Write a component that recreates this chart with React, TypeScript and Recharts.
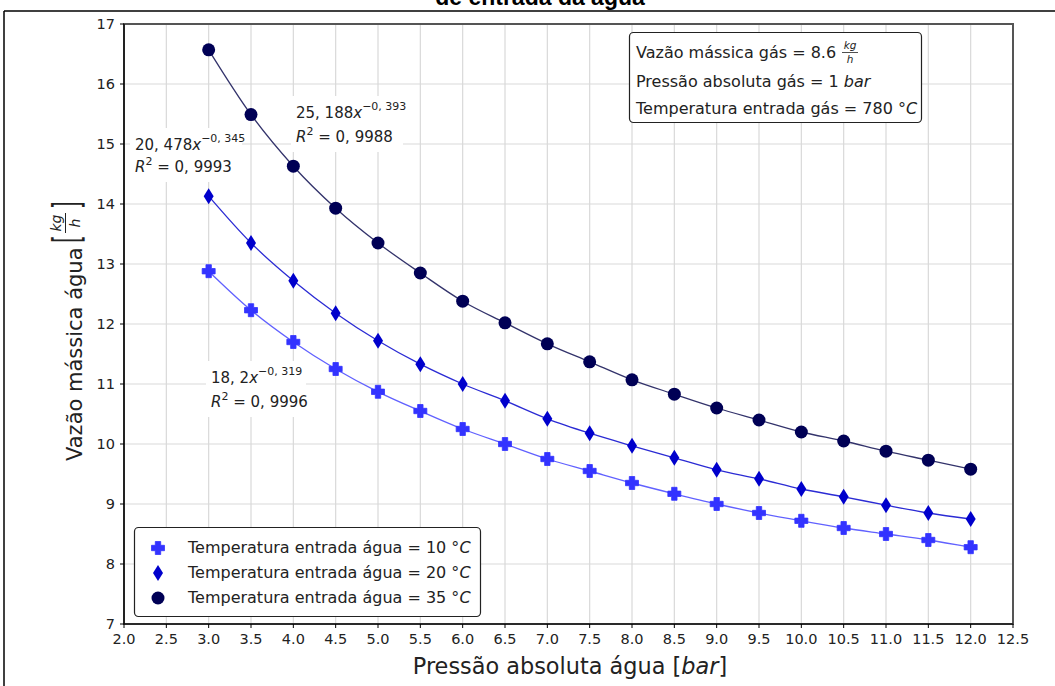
import React from "react";
import {
  CartesianGrid,
  Line,
  LineChart,
  ReferenceArea,
  XAxis,
  YAxis
} from "recharts";

const pressure = [3.0, 3.5, 4.0, 4.5, 5.0, 5.5, 6.0, 6.5, 7.0, 7.5, 8.0, 8.5, 9.0, 9.5, 10.0, 10.5, 11.0, 11.5, 12.0];
const flow10 = [12.88, 12.23, 11.7, 11.25, 10.87, 10.55, 10.25, 10.0, 9.75, 9.55, 9.35, 9.17, 9.0, 8.85, 8.72, 8.6, 8.5, 8.4, 8.28];
const flow20 = [14.13, 13.35, 12.72, 12.18, 11.72, 11.33, 11.0, 10.72, 10.42, 10.18, 9.97, 9.77, 9.57, 9.42, 9.25, 9.12, 8.98, 8.85, 8.75];
const flow35 = [16.57, 15.49, 14.63, 13.93, 13.35, 12.85, 12.38, 12.02, 11.67, 11.37, 11.07, 10.83, 10.6, 10.4, 10.2, 10.05, 9.88, 9.73, 9.58];

const xTicks = [2.0, 2.5, 3.0, 3.5, 4.0, 4.5, 5.0, 5.5, 6.0, 6.5, 7.0, 7.5, 8.0, 8.5, 9.0, 9.5, 10.0, 10.5, 11.0, 11.5, 12.0, 12.5];
const yTicks = [7, 8, 9, 10, 11, 12, 13, 14, 15, 16, 17];
const yMinorTicks: number[] = [];
for (let i = 0; i <= 50; i++) yMinorTicks.push(7 + i * 0.2);

const legendLabels = [
  "Temperatura entrada água = 10 °",
  "Temperatura entrada água = 20 °",
  "Temperatura entrada água = 35 °"
];

const data = pressure.map((p, i) => ({
  p,
  t10: flow10[i],
  t20: flow20[i],
  t35: flow35[i]
}));

const C10 = "#3333ff";
const C20 = "#0000cc";
const C35 = "#000055";
const FONT = "DejaVu Sans, sans-serif";

function Plus({ cx, cy, color }: { cx: number; cy: number; color: string }) {
  const s = 6.5;
  const t = 2.7;
  const d = `M${cx - t},${cy - s}H${cx + t}V${cy - t}H${cx + s}V${cy + t}H${cx + t}V${cy + s}H${cx - t}V${cy + t}H${cx - s}V${cy - t}H${cx - t}Z`;
  return <path d={d} fill={color} stroke={color} strokeWidth={0.8} strokeLinejoin="round" />;
}

function Diamond({ cx, cy, color }: { cx: number; cy: number; color: string }) {
  const d = `M${cx},${cy - 8}L${cx + 5},${cy}L${cx},${cy + 8}L${cx - 5},${cy}Z`;
  return <path d={d} fill={color} />;
}

function Circle({ cx, cy, color }: { cx: number; cy: number; color: string }) {
  return <circle cx={cx} cy={cy} r={6.5} fill={color} />;
}

const dotPlus = (props: any) => <Plus key={props.index} cx={props.cx} cy={props.cy} color={C10} />;
const dotDiamond = (props: any) => <Diamond key={props.index} cx={props.cx} cy={props.cy} color={C20} />;
const dotCircle = (props: any) => <Circle key={props.index} cx={props.cx} cy={props.cy} color={C35} />;

function FitLabel({ x, y, y2, coef, exp, r2, w }: { x: number; y: number; y2: number; coef: string; exp: string; r2: string; w: number }) {
  return (
    <g fontFamily={FONT} fill="#222">
      <rect x={x - 5} y={y - 22} width={w} height={y2 - y + 32} fill="#fff" />
      <text x={x} y={y} fontSize={15}>
        {coef}
        <tspan fontStyle="italic">x</tspan>
        <tspan fontSize={11} dy={-8}>{exp}</tspan>
      </text>
      <text x={x} y={y2} fontSize={15}>
        <tspan fontStyle="italic">R</tspan>
        <tspan fontSize={11} dy={-7}>2</tspan>
        <tspan dy={7}>{" = "}</tspan>
        {r2}
      </text>
    </g>
  );
}

function Overlay() {
  const rows = [548, 573, 598];
  return (
    <svg width={1055} height={686} style={{ position: "absolute", left: 0, top: 0, pointerEvents: "none" }}>
      <text x={540} y={5} textAnchor="middle" fontFamily="Liberation Sans, Arial, sans-serif" fontWeight="bold" fontSize={23} fill="#000">
        de entrada da água
      </text>
      <line x1={4} y1={11} x2={1055} y2={11} stroke="#000" strokeWidth={1.5} />
      <line x1={4} y1={11} x2={4} y2={686} stroke="#000" strokeWidth={1.5} />

      {/* y axis label */}
      <g transform="translate(0,325) rotate(-90)" fontFamily={FONT} fill="#222">
        <text x={-136} y={82} fontSize={21}>Vazão mássica água</text>
        <text transform="translate(82,79) scale(1,1.9)" fontSize={20}>[</text>
        <text x={102} y={61} fontSize={14} fontStyle="italic" textAnchor="middle">kg</text>
        <line x1={92} y1={65.5} x2={112} y2={65.5} stroke="#222" strokeWidth={1} />
        <text x={102} y={80} fontSize={14} fontStyle="italic" textAnchor="middle">h</text>
        <text transform="translate(116,79) scale(1,1.9)" fontSize={20}>]</text>
      </g>

      {/* x axis label */}
      <text x={570} y={674} textAnchor="middle" fontFamily={FONT} fontSize={22.4} fill="#222">
        Pressão absoluta água [<tspan fontStyle="italic">bar</tspan>]
      </text>

      {/* fit annotations */}
      <FitLabel x={296} y={118} y2={142} coef="25, 188" exp="−0, 393" r2="0, 9988" w={112} />
      <FitLabel x={135} y={150} y2={172} coef="20, 478" exp="−0, 345" r2="0, 9993" w={112} />
      <FitLabel x={211} y={383} y2={407} coef="18, 2" exp="−0, 319" r2="0, 9996" w={100} />

      {/* info box */}
      <g fontFamily={FONT} fill="#222" fontSize={16}>
        <rect x={629.5} y={32.5} width={292} height={90} rx={4} fill="#fff" stroke="#222" strokeWidth={1.2} />
        <text x={636} y={58}>Vazão mássica gás = 8.6</text>
        <text x={850} y={49} fontSize={10.5} fontStyle="italic" textAnchor="middle">kg</text>
        <line x1={842} y1={52.5} x2={858} y2={52.5} stroke="#222" strokeWidth={0.8} />
        <text x={850} y={63} fontSize={10.5} fontStyle="italic" textAnchor="middle">h</text>
        <text x={636} y={87}>
          Pressão absoluta gás = 1 <tspan fontStyle="italic">bar</tspan>
        </text>
        <text x={636} y={114}>
          Temperatura entrada gás = 780 °<tspan fontStyle="italic">C</tspan>
        </text>
      </g>

      {/* legend */}
      <g fontFamily={FONT} fill="#222" fontSize={16}>
        <rect x={134.5} y={527.5} width={346} height={89} rx={4} fill="#fff" stroke="#222" strokeWidth={1.2} />
        <Plus cx={158} cy={rows[0]} color={C10} />
        <Diamond cx={158} cy={rows[1]} color={C20} />
        <Circle cx={158} cy={rows[2]} color={C35} />
        {legendLabels.map((l, i) => (
          <text key={l} x={188} y={rows[i] + 5}>
            {l}
            <tspan fontStyle="italic">C</tspan>
          </text>
        ))}
      </g>
    </svg>
  );
}

export default function App() {
  return (
    <div style={{ position: "absolute", left: 0, top: 0, width: 1055, height: 686, overflow: "hidden", background: "#fff" }}>
      <LineChart width={1055} height={686} data={data} margin={{ top: 24, right: 42, left: 0, bottom: 0 }}>
        <CartesianGrid yAxisId="major" stroke="#d9d9d9" strokeWidth={1.2} />
        <XAxis
          dataKey="p"
          type="number"
          domain={[2, 12.5]}
          ticks={xTicks}
          interval={0}
          tickFormatter={(v: number) => v.toFixed(1)}
          height={62}
          tickSize={4}
          tickMargin={6}
          stroke="#000"
          axisLine={{ stroke: "#000", strokeWidth: 1.2 }}
          tick={{ fill: "#222", fontSize: 14.5, fontFamily: FONT }}
        />
        <YAxis
          yAxisId="minor"
          type="number"
          domain={[7, 17]}
          ticks={yMinorTicks}
          interval={0}
          width={0}
          tickSize={2.5}
          tickFormatter={() => ""}
          stroke="#000"
          axisLine={false}
        />
        <YAxis
          yAxisId="major"
          type="number"
          domain={[7, 17]}
          ticks={yTicks}
          interval={0}
          width={124}
          tickSize={4}
          tickMargin={5}
          stroke="#000"
          axisLine={{ stroke: "#000", strokeWidth: 1.2 }}
          tick={{ fill: "#222", fontSize: 14.5, fontFamily: FONT }}
        />
        <ReferenceArea yAxisId="major" x1={2} x2={12.5} y1={7} y2={17} fill="none" stroke="#555" strokeWidth={2} ifOverflow="visible" />
        <Line yAxisId="major" type="monotone" dataKey="t10" stroke="#6161ff" strokeWidth={1.3} dot={dotPlus} isAnimationActive={false} />
        <Line yAxisId="major" type="monotone" dataKey="t20" stroke="#2b2bd4" strokeWidth={1.3} dot={dotDiamond} isAnimationActive={false} />
        <Line yAxisId="major" type="monotone" dataKey="t35" stroke="#33336b" strokeWidth={1.3} dot={dotCircle} isAnimationActive={false} />
      </LineChart>
      <Overlay />
    </div>
  );
}
